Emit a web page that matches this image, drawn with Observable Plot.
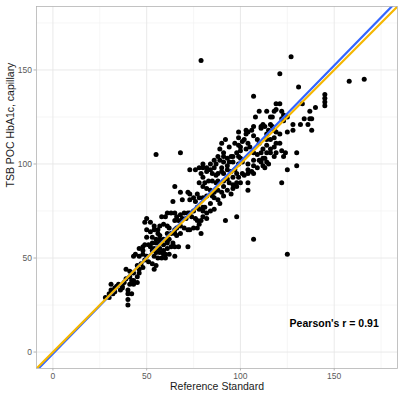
<!DOCTYPE html>
<html><head><meta charset="utf-8">
<script src="https://cdn.jsdelivr.net/npm/d3@7"></script>
<script src="https://cdn.jsdelivr.net/npm/@observablehq/plot@0.6"></script>
<style>html,body{margin:0;padding:0;background:#fff;}</style>
</head><body><div id="chart"></div>
<script>
// Reference Standard (x) and TSB POC HbA1c capillary (y)
const refStandard = [
  79,127,121,158,166,131,107,145,145,145,145,140,133,121,119,110,114,118,122,119,137,123,116,117,108,122,123,125,134,137,138,
  128,132,136,112,113,107,106,103,104,99,128,138,111,111,115,118,114,125,119,121,117,116,
  99,103,102,101,97,99,100,100,94,92,89,91,88,86,89,91,93,95,96,98,99,100,103,105,107,109,110,104,107,109,
  111,112,113,112,114,114,116,118,119,121,118,116,114,116,118,119,122,124,130,123,107,110,111,114,101,99,96,94,93,91,
  90,87,86,84,90,68,55,80,82,
  78,80,82,84,85,87,88,90,91,93,95,97,98,99,101,102,104,106,107,109,112,113,115,125,130,104,107,104,76,73,
  79,80,81,83,85,87,88,91,93,94,96,98,96,100,104,104,122,78,80,82,84,86,88,90,91,91,93,95,96,98,
  72,73,75,77,78,80,82,85,86,88,65,68,64,73,69,89,76,
  84,81,80,78,77,80,82,84,86,75,73,72,70,68,66,65,63,61,60,58,65,67,69,71,74,76,77,79,80,82,
  98,92,78,77,75,73,72,70,68,66,65,62,61,59,57,56,54,52,50,49,50,52,54,61,63,65,66,68,79,57,56,
  50,53,55,57,59,61,62,64,61,59,57,55,53,51,49,48,46,48,52,54,56,57,59,61,63,65,67,72,53,55,
  57,59,60,62,65,54,56,58,60,44,43,46,48,50,49,47,45,51,53,55,54,48,107,125,
  46,46,45,43,41,39,41,42,39,41,43,43,45,38,37,35,34,33,32,31,33,37,30,28,30,32,40,40,42,36,31,40,40
];
const pocCapillary = [
  155,157,148,144,145,141,136,137,135,133,131,130,132,132,132,128,128,128,128,129,128,126,125,125,125,124,123,125,124,124,124,
  121,121,121,121,120,120,118,118,117,117,118,118,120,119,118,118,116,117,117,116,120,121,
  114,116,113,112,111,110,109,107,109,113,108,106,104,102,102,104,103,104,104,106,104,103,108,109,115,113,111,111,106,105,
  106,103,103,108,110,113,113,114,111,111,109,108,106,106,104,106,107,106,106,104,102,102,101,101,101,100,101,101,99,101,
  98,100,98,100,111,106,105,100,98,
  98,98,96,97,95,94,95,96,95,97,96,97,95,93,95,94,95,96,95,98,99,98,100,97,99,100,99,97,97,97,
  95,93,90,91,91,90,91,91,92,90,89,90,93,90,90,86,90,90,88,87,86,85,86,85,88,83,86,84,87,88,
  85,84,82,84,82,82,83,83,82,81,88,85,80,81,81,79,80,
  79,77,77,76,77,75,74,75,76,75,74,74,74,73,72,74,74,74,72,72,70,70,71,71,72,71,70,70,72,71,
  72,70,68,66,66,65,65,66,67,66,65,66,67,68,67,65,67,69,71,69,65,64,65,63,63,63,62,63,63,62,63,
  61,61,60,60,60,59,60,58,58,57,58,58,58,57,57,56,55,54,56,55,55,55,54,55,56,56,56,56,54,53,
  53,52,52,52,51,51,50,50,50,52,51,51,52,51,49,47,46,48,47,46,44,45,60,52,
  44,42,40,42,43,44,40,38,39,36,36,38,37,37,35,36,35,34,32,33,32,34,31,29,29,31,31,33,31,33,36,28,25
];
const axisLimits = [0, 175];
const majorTicks = [0, 50, 100, 150];
const minorTicks = [25, 75, 125, 175];
const lineNames = ["Linear fit", "Line of identity"];
const lineSlopes = [1.022, 1];
const lineIntercepts = [-0.9, 0];
const xTitle = "Reference Standard";
const yTitle = "TSB POC HbA1c, capillary";
const annotation = "Pearson's r = 0.91";

if (refStandard.length !== pocCapillary.length) console.error("length mismatch", refStandard.length, pocCapillary.length);

const pad = (axisLimits[1] - axisLimits[0]) * 0.05;
const domain = [axisLimits[0] - pad, axisLimits[1] + pad];
const lineData = lineNames.map((name, k) =>
  domain.map(x => ({name, x, y: lineSlopes[k] * x + lineIntercepts[k]})));
const n = Math.min(refStandard.length, pocCapillary.length);

const chart = Plot.plot({
  width: 411,
  height: 398,
  marginLeft: 36,
  marginRight: 14,
  marginTop: 6,
  marginBottom: 30,
  style: {fontFamily: "'Liberation Sans', Arial, sans-serif", background: "white", overflow: "visible"},
  x: {domain, label: null},
  y: {domain, label: null},
  marks: [
    Plot.ruleX(minorTicks, {stroke: "#F2F2F2", strokeWidth: 0.7}),
    Plot.ruleY(minorTicks, {stroke: "#F2F2F2", strokeWidth: 0.7}),
    Plot.ruleX(majorTicks, {stroke: "#E6E6E6", strokeWidth: 0.9}),
    Plot.ruleY(majorTicks, {stroke: "#E6E6E6", strokeWidth: 0.9}),
    Plot.dot({length: n}, {x: refStandard.slice(0, n), y: pocCapillary.slice(0, n), r: 2.5, fill: "black", stroke: "none"}),
    Plot.line(lineData[0], {x: "x", y: "y", stroke: "#3366FF", strokeWidth: 2.2, clip: true}),
    Plot.line(lineData[1], {x: "x", y: "y", stroke: "#F5B700", strokeWidth: 2.2, clip: true}),
    Plot.text([{label: annotation, x: 150, y: 15}], {x: "x", y: "y", text: "label", fontSize: 10.5, fontWeight: "bold", fill: "black"}),
    Plot.frame({stroke: "#B3B3B3", strokeWidth: 0.8}),
    Plot.axisX({ticks: majorTicks, tickSize: 2.5, tickPadding: 1.5, stroke: "#B3B3B3", fill: "#5a5a5a", fontSize: 8.5, label: null}),
    Plot.axisY({ticks: majorTicks, tickSize: 2.5, tickPadding: 2, stroke: "#B3B3B3", fill: "#5a5a5a", fontSize: 8.5, label: null}),
    Plot.text([xTitle], {frameAnchor: "bottom", dy: 21.5, fontSize: 10.5, fill: "#1a1a1a"}),
    Plot.text([yTitle], {frameAnchor: "left", dx: -26, rotate: -90, fontSize: 10.5, fill: "#1a1a1a"})
  ]
});
document.getElementById("chart").appendChild(chart);
</script>
</body></html>
